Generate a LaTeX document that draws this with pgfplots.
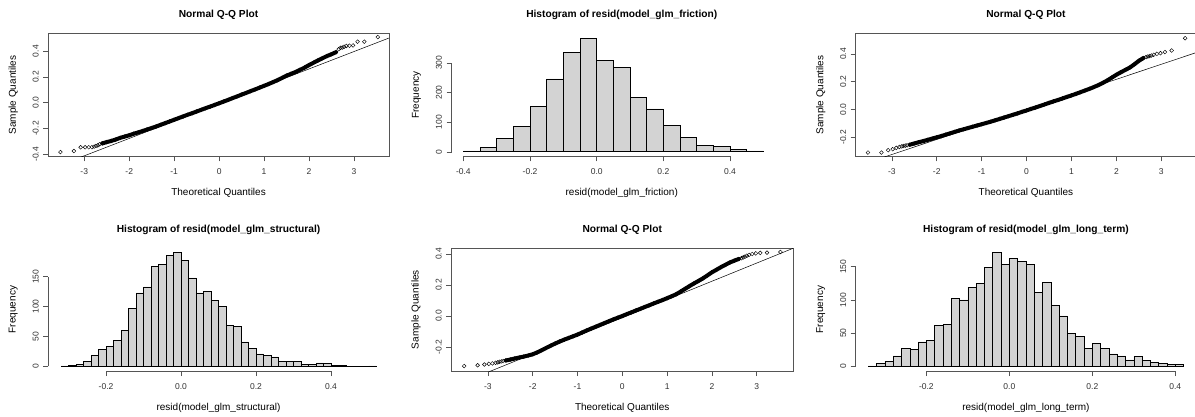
\documentclass[border=0pt]{standalone}
\usepackage{fontspec}
\setmainfont{Liberation Sans}
\usepackage{pgfplots}
\pgfplotsset{compat=1.18}
\definecolor{barfill}{HTML}{D3D3D3}
\definecolor{axcol}{HTML}{555555}
\definecolor{txtcol}{HTML}{333333}
\pgfplotsset{
  rbase/.style={
    scale only axis, anchor=north west,
    tick align=outside, tick pos=left,
    major tick length=5pt,
    every tick/.style={axcol, line width=0.5pt},
    tick label style={font=\fontsize{8.5}{10}\selectfont, text=txtcol},
    xticklabel style={anchor=north, inner sep=0pt, yshift=-7.3pt},
    yticklabel style={rotate=90, anchor=south, inner sep=0pt, yshift=4.4pt},
    label style={font=\fontsize{8.5}{10}\selectfont, text=txtcol},
    every axis title/.style={at={(axis description cs:0.5,1.1525)}, anchor=center, font=\bfseries\fontsize{10.2}{12}\selectfont, text=black},
    every axis x label/.style={at={(axis description cs:0.5,-0.297)}, anchor=center},
    every axis y label/.style={at={(axis description cs:-0.1028,0.5)}, rotate=90, anchor=center},
  },
  rqq/.style={rbase, clip=true, axis line style={axcol, line width=0.5pt},
    xtick={-3,-2,-1,0,1,2,3}, xticklabels={-3,-2,-1,0,1,2,3},
    title={Normal Q-Q Plot}, xlabel={Theoretical Quantiles}, ylabel={Sample Quantiles}},
  rhist/.style={rbase, clip=false, axis line style={draw=none}, ylabel={Frequency}},
  band/.style={black, line width=4pt, line cap=round, line join=round, no marks},
  pts/.style={only marks, mark=o, mark size=1.9pt, black, mark options={line width=0.45pt}},
  qqline/.style={black, line width=0.5pt, no marks},
  bars/.style={ybar interval, fill=barfill, draw=black, line width=0.55pt},
  axseg/.style={axcol, line width=0.5pt, no marks},
}
\begin{document}
\begin{tikzpicture}
\fill[white] (0,0) rectangle (1195pt,-416pt);
\useasboundingbox (0,0) rectangle (1195pt,-416pt);

% ---------- Panel 1: Normal Q-Q ----------
\begin{axis}[rqq, at={(48.3pt,-33.7pt)}, width=340.5pt, height=122.6pt,
  xmin=-3.80, xmax=3.775, ymin=-0.415, ymax=0.535,
  ytick={-0.4,-0.2,0,0.2,0.4}, yticklabels={-0.4,-0.2,0.0,0.2,0.4}]
\addplot[band] coordinates {(-2.6,-0.315) (-2.5,-0.305) (-2.4,-0.296) (-2.3,-0.285) (-2.2,-0.272) (-2.1,-0.262) (-2.0,-0.252) (-1.9,-0.240) (-1.8,-0.230) (-1.7,-0.219) (-1.6,-0.207) (-1.5,-0.196) (-1.4,-0.184) (-1.3,-0.171) (-1.2,-0.158) (-1.1,-0.145) (-1.0,-0.132) (-0.9,-0.119) (-0.8,-0.106) (-0.7,-0.093) (-0.6,-0.081) (-0.5,-0.068) (-0.4,-0.055) (-0.3,-0.042) (-0.2,-0.030) (-0.1,-0.017) (0,-0.004) (0.1,0.009) (0.2,0.022) (0.3,0.036) (0.4,0.049) (0.5,0.063) (0.6,0.076) (0.7,0.090) (0.8,0.103) (0.9,0.117) (1.0,0.131) (1.1,0.145) (1.2,0.160) (1.3,0.175) (1.4,0.192) (1.5,0.210) (1.6,0.224) (1.7,0.238) (1.8,0.255) (1.9,0.272) (2.0,0.292) (2.1,0.310) (2.2,0.328) (2.3,0.345) (2.4,0.362) (2.5,0.376) (2.6,0.392)};
\addplot[pts] coordinates {(-3.53,-0.382) (-3.23,-0.374) (-3.08,-0.345) (-2.98,-0.345) (-2.90,-0.345) (-2.83,-0.344) (-2.78,-0.340) (-2.74,-0.335) (-2.70,-0.330) (-2.66,-0.322) (-2.6,-0.315) (-2.5,-0.305) (-2.4,-0.296) (-2.3,-0.285) (-2.2,-0.272) (-2.1,-0.262) (-2.0,-0.252) (-1.9,-0.240) (-1.8,-0.230) (-1.7,-0.219) (-1.6,-0.207) (-1.5,-0.196) (-1.4,-0.184) (-1.3,-0.171) (-1.2,-0.158) (-1.1,-0.145) (-1.0,-0.132) (-0.9,-0.119) (-0.8,-0.106) (-0.7,-0.093) (-0.6,-0.081) (-0.5,-0.068) (-0.4,-0.055) (-0.3,-0.042) (-0.2,-0.030) (-0.1,-0.017) (0,-0.004) (0.1,0.009) (0.2,0.022) (0.3,0.036) (0.4,0.049) (0.5,0.063) (0.6,0.076) (0.7,0.090) (0.8,0.103) (0.9,0.117) (1.0,0.131) (1.1,0.145) (1.2,0.160) (1.3,0.175) (1.4,0.192) (1.5,0.210) (1.6,0.224) (1.7,0.238) (1.8,0.255) (1.9,0.272) (2.0,0.292) (2.1,0.310) (2.2,0.328) (2.3,0.345) (2.4,0.362) (2.5,0.376) (2.6,0.392) (2.66,0.415) (2.70,0.425) (2.74,0.428) (2.78,0.434) (2.83,0.440) (2.90,0.442) (2.98,0.444) (3.08,0.473) (3.23,0.473) (3.53,0.509)};
\addplot[qqline] coordinates {(-3.80,-0.519) (3.775,0.501)};
\end{axis}

% ---------- Panel 2: Histogram friction ----------
\begin{axis}[rhist, at={(451.5pt,-33.7pt)}, width=340.5pt, height=122.6pt,
  xmin=-0.4356, xmax=0.586, ymin=-15.3, ymax=398.3,
  xtick={-0.4,-0.2,0,0.2,0.4}, xticklabels={-0.4,-0.2,0.0,0.2,0.4},
  ytick={0,100,200,300}, yticklabels={0,100,200,300},
  title={Histogram of resid(model\_glm\_friction)}, xlabel={resid(model\_glm\_friction)}]
\addplot[bars] coordinates {(-0.40,3) (-0.35,15) (-0.30,46) (-0.25,85) (-0.20,154) (-0.15,246) (-0.10,334) (-0.05,383) (0.00,309) (0.05,284) (0.10,183) (0.15,145) (0.20,88) (0.25,48) (0.30,21) (0.35,19) (0.40,8) (0.45,3) (0.50,3)};
\addplot[axseg] coordinates {(-0.4,-15.3) (0.4,-15.3)};
\addplot[axseg] coordinates {(-0.4356,0) (-0.4356,300)};
\end{axis}

% ---------- Panel 3: Normal Q-Q ----------
\begin{axis}[rqq, at={(855.7pt,-33.7pt)}, width=340.5pt, height=122.6pt,
  xmin=-3.803, xmax=3.776, ymin=-0.335, ymax=0.5445,
  ytick={-0.2,0,0.2,0.4}, yticklabels={-0.2,0.0,0.2,0.4}]
\addplot[band] coordinates {(-2.6,-0.252) (-2.5,-0.243) (-2.4,-0.234) (-2.3,-0.226) (-2.2,-0.217) (-2.1,-0.208) (-2.0,-0.199) (-1.9,-0.190) (-1.8,-0.180) (-1.7,-0.170) (-1.6,-0.160) (-1.5,-0.150) (-1.4,-0.141) (-1.3,-0.132) (-1.2,-0.123) (-1.1,-0.114) (-1.0,-0.105) (-0.9,-0.096) (-0.8,-0.087) (-0.7,-0.077) (-0.6,-0.067) (-0.5,-0.057) (-0.4,-0.047) (-0.3,-0.037) (-0.2,-0.027) (-0.1,-0.016) (0,-0.006) (0.1,0.005) (0.2,0.015) (0.3,0.026) (0.4,0.037) (0.5,0.048) (0.6,0.059) (0.7,0.069) (0.8,0.080) (0.9,0.091) (1.0,0.102) (1.1,0.113) (1.2,0.125) (1.3,0.137) (1.4,0.149) (1.5,0.162) (1.6,0.176) (1.7,0.192) (1.8,0.210) (1.9,0.230) (2.0,0.250) (2.1,0.268) (2.2,0.285) (2.3,0.302) (2.4,0.325) (2.5,0.350) (2.6,0.370)};
\addplot[pts] coordinates {(-3.53,-0.308) (-3.23,-0.308) (-3.08,-0.291) (-2.98,-0.284) (-2.90,-0.275) (-2.83,-0.268) (-2.78,-0.264) (-2.74,-0.261) (-2.70,-0.258) (-2.66,-0.256) (-2.6,-0.252) (-2.5,-0.243) (-2.4,-0.234) (-2.3,-0.226) (-2.2,-0.217) (-2.1,-0.208) (-2.0,-0.199) (-1.9,-0.190) (-1.8,-0.180) (-1.7,-0.170) (-1.6,-0.160) (-1.5,-0.150) (-1.4,-0.141) (-1.3,-0.132) (-1.2,-0.123) (-1.1,-0.114) (-1.0,-0.105) (-0.9,-0.096) (-0.8,-0.087) (-0.7,-0.077) (-0.6,-0.067) (-0.5,-0.057) (-0.4,-0.047) (-0.3,-0.037) (-0.2,-0.027) (-0.1,-0.016) (0,-0.006) (0.1,0.005) (0.2,0.015) (0.3,0.026) (0.4,0.037) (0.5,0.048) (0.6,0.059) (0.7,0.069) (0.8,0.080) (0.9,0.091) (1.0,0.102) (1.1,0.113) (1.2,0.125) (1.3,0.137) (1.4,0.149) (1.5,0.162) (1.6,0.176) (1.7,0.192) (1.8,0.210) (1.9,0.230) (2.0,0.250) (2.1,0.268) (2.2,0.285) (2.3,0.302) (2.4,0.325) (2.5,0.350) (2.6,0.370) (2.66,0.377) (2.70,0.381) (2.74,0.384) (2.78,0.388) (2.83,0.393) (2.90,0.400) (2.98,0.405) (3.08,0.413) (3.23,0.424) (3.53,0.512)};
\addplot[qqline] coordinates {(-3.803,-0.409) (3.776,0.409)};
\end{axis}

% ---------- Panel 4: Histogram structural ----------
\begin{axis}[rhist, at={(48.3pt,-248.2pt)}, width=340.5pt, height=122.8pt,
  xmin=-0.354, xmax=0.554, ymin=-7.6, ymax=197.6,
  xtick={-0.2,0,0.2,0.4}, xticklabels={-0.2,0.0,0.2,0.4},
  ytick={0,50,100,150}, yticklabels={0,50,100,150},
  title={Histogram of resid(model\_glm\_structural)}, xlabel={resid(model\_glm\_structural)}]
\addplot[bars] coordinates {(-0.32,1) (-0.30,2) (-0.28,4) (-0.26,8) (-0.24,18) (-0.22,28) (-0.20,34) (-0.18,43) (-0.16,60) (-0.14,97) (-0.12,123) (-0.10,133) (-0.08,167) (-0.06,171) (-0.04,186) (-0.02,190) (0.00,177) (0.02,148) (0.04,123) (0.06,126) (0.08,110) (0.10,100) (0.12,69) (0.14,67) (0.16,41) (0.18,30) (0.20,21) (0.22,18) (0.24,16) (0.26,8) (0.28,9) (0.30,8) (0.32,3) (0.34,3) (0.36,6) (0.38,5) (0.40,2) (0.42,2) (0.44,0) (0.46,0) (0.48,0) (0.50,1) (0.52,1)};
\addplot[axseg] coordinates {(-0.2,-7.6) (0.4,-7.6)};
\addplot[axseg] coordinates {(-0.354,0) (-0.354,150)};
\end{axis}

% ---------- Panel 5: Normal Q-Q ----------
\begin{axis}[rqq, at={(451.2pt,-248.2pt)}, width=342.1pt, height=122.8pt,
  xmin=-3.82, xmax=3.817, ymin=-0.355, ymax=0.4374,
  ytick={-0.2,0,0.2,0.4}, yticklabels={-0.2,0.0,0.2,0.4}]
\addplot[band] coordinates {(-2.6,-0.287) (-2.5,-0.281) (-2.4,-0.274) (-2.3,-0.268) (-2.2,-0.262) (-2.1,-0.255) (-2.0,-0.247) (-1.9,-0.235) (-1.8,-0.221) (-1.7,-0.206) (-1.6,-0.192) (-1.5,-0.178) (-1.4,-0.165) (-1.3,-0.153) (-1.2,-0.142) (-1.1,-0.131) (-1.0,-0.120) (-0.9,-0.107) (-0.8,-0.094) (-0.7,-0.082) (-0.6,-0.070) (-0.5,-0.058) (-0.4,-0.046) (-0.3,-0.034) (-0.2,-0.022) (-0.1,-0.011) (0,0.000) (0.1,0.012) (0.2,0.023) (0.3,0.035) (0.4,0.046) (0.5,0.058) (0.6,0.069) (0.7,0.081) (0.8,0.092) (0.9,0.103) (1.0,0.115) (1.1,0.127) (1.2,0.140) (1.3,0.157) (1.4,0.175) (1.5,0.193) (1.6,0.210) (1.7,0.226) (1.8,0.243) (1.9,0.262) (2.0,0.282) (2.1,0.298) (2.2,0.315) (2.3,0.330) (2.4,0.345) (2.5,0.357) (2.6,0.368)};
\addplot[pts] coordinates {(-3.53,-0.323) (-3.23,-0.318) (-3.08,-0.313) (-2.98,-0.309) (-2.90,-0.306) (-2.83,-0.302) (-2.78,-0.299) (-2.74,-0.296) (-2.70,-0.293) (-2.66,-0.291) (-2.6,-0.287) (-2.5,-0.281) (-2.4,-0.274) (-2.3,-0.268) (-2.2,-0.262) (-2.1,-0.255) (-2.0,-0.247) (-1.9,-0.235) (-1.8,-0.221) (-1.7,-0.206) (-1.6,-0.192) (-1.5,-0.178) (-1.4,-0.165) (-1.3,-0.153) (-1.2,-0.142) (-1.1,-0.131) (-1.0,-0.120) (-0.9,-0.107) (-0.8,-0.094) (-0.7,-0.082) (-0.6,-0.070) (-0.5,-0.058) (-0.4,-0.046) (-0.3,-0.034) (-0.2,-0.022) (-0.1,-0.011) (0,0.000) (0.1,0.012) (0.2,0.023) (0.3,0.035) (0.4,0.046) (0.5,0.058) (0.6,0.069) (0.7,0.081) (0.8,0.092) (0.9,0.103) (1.0,0.115) (1.1,0.127) (1.2,0.140) (1.3,0.157) (1.4,0.175) (1.5,0.193) (1.6,0.210) (1.7,0.226) (1.8,0.243) (1.9,0.262) (2.0,0.282) (2.1,0.298) (2.2,0.315) (2.3,0.330) (2.4,0.345) (2.5,0.357) (2.6,0.368) (2.66,0.373) (2.70,0.378) (2.74,0.383) (2.78,0.389) (2.83,0.394) (2.90,0.400) (2.98,0.404) (3.08,0.407) (3.23,0.409) (3.53,0.413)};
\addplot[qqline] coordinates {(-3.82,-0.459) (3.817,0.4374)};
\end{axis}

% ---------- Panel 6: Histogram long term ----------
\begin{axis}[rhist, at={(855.7pt,-248.2pt)}, width=340.5pt, height=122.8pt,
  xmin=-0.3704, xmax=0.4504, ymin=-6.84, ymax=177.84,
  xtick={-0.2,0,0.2,0.4}, xticklabels={-0.2,0.0,0.2,0.4},
  ytick={0,50,100,150}, yticklabels={0,50,100,150},
  title={Histogram of resid(model\_glm\_long\_term)}, xlabel={resid(model\_glm\_long\_term)}]
\addplot[bars] coordinates {(-0.34,1) (-0.32,5) (-0.30,8) (-0.28,16) (-0.26,27) (-0.24,26) (-0.22,37) (-0.20,39) (-0.18,62) (-0.16,63) (-0.14,102) (-0.12,100) (-0.10,119) (-0.08,125) (-0.06,149) (-0.04,171) (-0.02,153) (0.00,162) (0.02,158) (0.04,153) (0.06,111) (0.08,126) (0.10,92) (0.12,76) (0.14,50) (0.16,45) (0.18,27) (0.20,35) (0.22,27) (0.24,19) (0.26,16) (0.28,10) (0.30,15) (0.32,9) (0.34,6) (0.36,5) (0.38,3) (0.40,3) (0.42,3)};
\addplot[axseg] coordinates {(-0.2,-6.84) (0.4,-6.84)};
\addplot[axseg] coordinates {(-0.3704,0) (-0.3704,150)};
\end{axis}
\end{tikzpicture}
\end{document}
